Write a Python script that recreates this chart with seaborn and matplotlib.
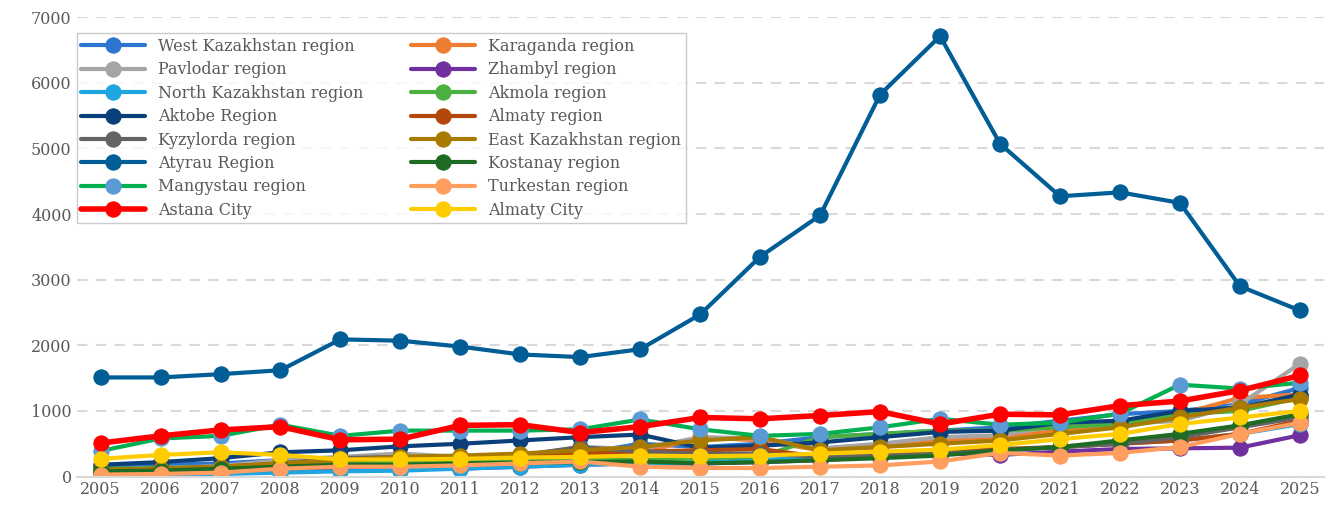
import numpy as np
import pandas as pd
import seaborn as sns
import matplotlib.pyplot as plt

years = list(range(2005, 2026))

west_kaz = [150,180,200,250,200,200,250,300,350,500,450,500,600,650,700,750,850,950,1000,1100,1350]
karaganda = [80,100,120,150,200,200,220,250,300,350,600,550,400,450,550,600,700,800,950,1200,1250]
pavlodar = [100,130,160,250,300,350,300,320,450,420,600,580,430,500,600,630,780,800,850,1100,1720]
zhambyl = [30,40,50,80,100,120,120,150,180,200,200,220,250,300,350,330,380,420,430,440,630]
north_kaz = [20,30,40,60,80,90,120,150,180,200,220,250,300,350,380,400,450,500,550,650,800]
akmola = [120,130,150,180,200,220,240,250,260,250,280,300,600,650,700,700,750,800,950,1000,1200]
aktobe = [180,220,280,370,400,460,500,550,600,640,440,470,520,600,680,700,820,850,1000,1050,1250]
almaty_reg = [100,120,150,200,250,280,300,320,350,380,400,420,300,350,400,420,450,500,550,650,850]
kyzylorda = [80,100,130,200,280,300,300,320,450,380,350,350,300,320,350,400,450,500,600,750,900]
east_kaz = [100,120,150,200,250,300,320,350,400,450,550,600,400,450,500,550,650,750,900,1050,1180]
atyrau = [1510,1510,1560,1620,2090,2070,1980,1860,1820,1940,2470,3350,3980,5820,6710,5070,4270,4330,4170,2900,2530]
kostanay = [80,90,120,150,180,180,200,210,220,230,200,220,250,280,320,400,450,550,650,780,950]
mangystau = [390,580,620,790,620,700,700,700,720,870,720,620,650,750,880,790,820,960,1400,1340,1430]
turkestan = [30,40,60,120,150,150,170,200,230,150,130,130,150,170,230,360,320,360,450,650,820]
astana = [510,620,710,760,560,570,780,790,670,760,900,880,930,990,800,950,940,1080,1150,1310,1540]
almaty_city = [270,330,370,330,260,260,270,290,300,320,310,320,350,380,410,480,570,650,800,900,1000]

series = [
    ("West Kazakhstan region", west_kaz, "#2E75D0", "#2E75D0"),
    ("Karaganda region", karaganda, "#ED7D31", "#ED7D31"),
    ("Pavlodar region", pavlodar, "#A5A5A5", "#A5A5A5"),
    ("Zhambyl region", zhambyl, "#7030A0", "#7030A0"),
    ("North Kazakhstan region", north_kaz, "#1FA5E0", "#1FA5E0"),
    ("Akmola region", akmola, "#4CB040", "#4CB040"),
    ("Aktobe Region", aktobe, "#0B3F7A", "#0B3F7A"),
    ("Almaty region", almaty_reg, "#B4470B", "#B4470B"),
    ("Kyzylorda region", kyzylorda, "#636363", "#636363"),
    ("East Kazakhstan region", east_kaz, "#A87A00", "#A87A00"),
    ("Atyrau Region", atyrau, "#005D95", "#005D95"),
    ("Kostanay region", kostanay, "#1E6B24", "#1E6B24"),
    ("Mangystau region", mangystau, "#00B050", "#5B9BD5"),
    ("Turkestan region", turkestan, "#FF9E5E", "#FF9E5E"),
    ("Astana City", astana, "#FF0000", "#FF0000"),
    ("Almaty City", almaty_city, "#FFCC00", "#FFCC00"),
]

sns.set_style("white")
plt.rcParams['font.family'] = ['DejaVu Serif']

fig, ax = plt.subplots(figsize=(13.44, 5.18), dpi=100)
for name, vals, lc, mc in series:
    df = pd.DataFrame({"year": years, "val": vals})
    lw = 4 if name == "Astana City" else 3
    sns.lineplot(data=df, x="year", y="val", ax=ax, color=lc, linewidth=lw,
                 marker="o", markersize=11, markerfacecolor=mc,
                 markeredgecolor=mc, label=name)
h, l = ax.get_legend_handles_labels()
order = list(range(0, 16, 2)) + list(range(1, 16, 2))
ax.legend([h[i] for i in order], [l[i] for i in order], ncol=2, loc="upper left",
          bbox_to_anchor=(0.0, 0.965), fancybox=False, edgecolor="#BFBFBF",
          fontsize=11.5, handlelength=4, labelspacing=0.4, columnspacing=3,
          labelcolor="#595959", borderaxespad=0.0, borderpad=0.3)
ax.set_xlim(2004.6, 2025.4)
ax.set_ylim(0, 7000)
ax.set_xticks(years)
ax.set_yticks(range(0, 7001, 1000))
ax.tick_params(labelsize=11.5, colors="#595959", length=0)
ax.yaxis.grid(True, linestyle=(0, (5, 4)), color="#D9D9D9", linewidth=1.5)
ax.set_xlabel("")
ax.set_ylabel("")
for s in ["top", "right", "left"]:
    ax.spines[s].set_visible(False)
ax.spines["bottom"].set_color("#D9D9D9")
ax.spines["bottom"].set_linewidth(1.5)
plt.subplots_adjust(left=0.057, right=0.985, top=0.967, bottom=0.08)
plt.savefig("out.png")
